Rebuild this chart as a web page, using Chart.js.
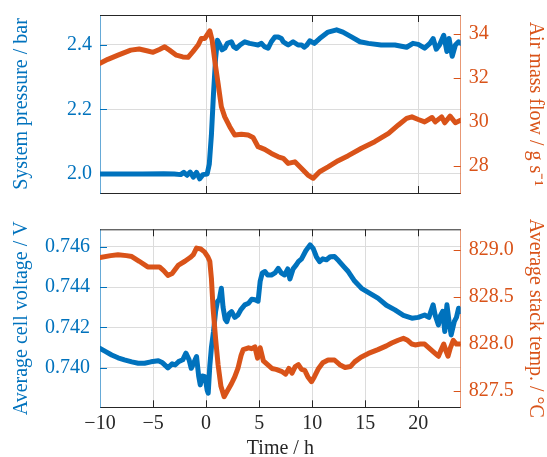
<!DOCTYPE html>
<html>
<head>
<meta charset="utf-8">
<script src="https://cdn.jsdelivr.net/npm/chart.js@4.4.1/dist/chart.umd.min.js"></script>
<style>
  html, body { margin: 0; padding: 0; background: #fff; overflow: hidden; }
  #wrap { position: relative; width: 547px; height: 457px; }
  canvas { position: absolute; left: 0; }
  #c1 { top: 0; }
  #c2 { top: 205px; }
</style>
</head>
<body>
<div id="wrap">
  <canvas id="c1" width="547" height="205"></canvas>
  <canvas id="c2" width="547" height="252"></canvas>
</div>
<script>
// top panel: system pressure (left) and air mass flow (right)
const pressureTime = [-10, -8, -6, -4, -3, -2.4, -2.1, -1.8, -1.5, -1.2,
  -0.9, -0.6, -0.3, 0.1, 0.3, 0.5, 0.7, 0.9, 1.07, 1.3,
  1.5, 1.76, 2.0, 2.39, 2.6, 2.86, 3.2, 3.65, 4.1, 4.59,
  4.9, 5.22, 5.5, 5.85, 6.15, 6.48, 6.8, 7.1, 7.27, 7.5,
  7.74, 8.2, 8.67, 9.0, 9.24, 9.5, 9.77, 10.2, 10.7, 11.1,
  11.5, 12.3, 12.9, 13.7, 14.5, 15.3, 16.5, 17.8, 18.9, 19.5,
  20.0, 20.6, 21.1, 21.4, 21.7, 22.0, 22.4, 22.7, 22.9, 23.2,
  23.5, 23.8, 24];
const pressure = [2.0, 2.0, 2.0, 2.001, 2.0, 1.998, 2.005, 1.996, 2.006, 1.99,
  2.005, 1.985, 1.998, 2.0, 2.03, 2.12, 2.25, 2.36, 2.415, 2.40,
  2.385, 2.39, 2.405, 2.41, 2.395, 2.389, 2.40, 2.41, 2.405, 2.402,
  2.40, 2.405, 2.395, 2.39, 2.41, 2.425, 2.425, 2.42, 2.41, 2.405,
  2.40, 2.41, 2.40, 2.40, 2.393, 2.40, 2.413, 2.405, 2.42, 2.43,
  2.44, 2.447, 2.44, 2.425, 2.41, 2.405, 2.40, 2.40, 2.393, 2.405,
  2.402, 2.39, 2.405, 2.42, 2.387, 2.40, 2.43, 2.38, 2.42, 2.365,
  2.40, 2.41, 2.405];

const airTime = [-10, -9.26, -8.3, -7.1, -6.3, -5.5, -5.0, -4.4, -3.9, -3.45,
  -2.8, -2.2, -1.7, -1.24, -0.75, -0.44, -0.12, 0.35, 0.57, 0.81,
  1.13, 1.44, 1.76, 2.23, 2.7, 3.33, 3.96, 4.43, 4.9, 5.53,
  6.16, 6.8, 7.27, 7.74, 8.37, 9.0, 9.6, 10.1, 10.7, 11.5,
  12.45, 13.4, 14.65, 15.9, 17.2, 18.1, 18.9, 19.4, 20.0, 20.6,
  21.3, 21.6, 22.2, 22.5, 23.0, 23.5, 24];
const airFlow = [32.67, 32.85, 33.04, 33.27, 33.32, 33.23, 33.17, 33.3, 33.42, 33.27,
  33.04, 32.96, 32.94, 33.2, 33.5, 33.8, 33.8, 34.15, 33.73, 32.82,
  31.75, 30.69, 30.23, 29.78, 29.4, 29.44, 29.4, 29.29, 28.87, 28.75,
  28.56, 28.41, 28.34, 28.11, 28.18, 27.88, 27.58, 27.43, 27.73, 27.95,
  28.23, 28.46, 28.8, 29.1, 29.48, 29.85, 30.16, 30.23, 30.11, 30.0,
  30.2, 30.0, 30.23, 29.96, 30.26, 29.96, 30.08];

// bottom panel: cell voltage (left) and stack temperature (right)
const voltTime = [-10, -9.5, -8.9, -8.3, -7.7, -7.0, -6.4, -5.8, -5.2, -4.5,
  -4.1, -3.6, -3.2, -2.9, -2.6, -2.2, -1.9, -1.6, -1.4, -1.2,
  -0.9, -0.7, -0.55, -0.35, -0.1, 0.1, 0.2, 0.35, 0.5, 0.7,
  0.9, 1.07, 1.25, 1.44, 1.6, 1.8, 1.95, 2.2, 2.4, 2.7,
  3.0, 3.3, 3.65, 4.0, 4.3, 4.6, 4.9, 5.1, 5.3, 5.55,
  5.8, 6.16, 6.5, 6.8, 7.1, 7.4, 7.7, 7.9, 8.2, 8.5,
  8.7, 9.0, 9.4, 9.8, 10.1, 10.4, 10.7, 11.0, 11.35, 11.7,
  12.1, 12.5, 13.0, 13.4, 14.0, 14.65, 15.4, 16.2, 17.0, 17.8,
  18.6, 19.4, 20.0, 20.6, 21.0, 21.4, 21.6, 21.9, 22.1, 22.3,
  22.5, 22.7, 22.9, 23.1, 23.4, 23.6, 23.8, 24];
const voltage = [0.74097, 0.74082, 0.74064, 0.7405, 0.7404, 0.7403, 0.74023, 0.74023, 0.7403, 0.74035,
  0.74025, 0.74, 0.7402, 0.74015, 0.74031, 0.7404, 0.74073, 0.7404, 0.73998, 0.7402,
  0.74056, 0.7396, 0.73916, 0.7396, 0.73957, 0.7389, 0.73875, 0.7401, 0.741, 0.7418,
  0.7428, 0.74328, 0.7434, 0.74394, 0.743, 0.7424, 0.74229, 0.7427, 0.74279, 0.7425,
  0.74262, 0.7429, 0.74312, 0.7432, 0.7434, 0.74337, 0.7433, 0.7443, 0.7447, 0.74477,
  0.7446, 0.7446, 0.7447, 0.74493, 0.74469, 0.7446, 0.7449, 0.7444, 0.7449, 0.7451,
  0.74526, 0.7454, 0.7458, 0.74609, 0.7459, 0.7455, 0.74526, 0.7454, 0.74535, 0.7455,
  0.74551, 0.7453, 0.745, 0.74477, 0.7443, 0.74394, 0.7437, 0.74345, 0.7431, 0.74287,
  0.7426, 0.74246, 0.7425, 0.74262, 0.7425, 0.74312, 0.7426, 0.74213, 0.7426, 0.7428,
  0.7418, 0.74312, 0.7423, 0.74163, 0.7423, 0.7425, 0.74295, 0.7428];

const tempTime = [-10, -9, -8.3, -7.5, -7.0, -6.3, -5.5, -4.9, -4.4, -4.0,
  -3.6, -3.2, -2.6, -2.0, -1.5, -1.2, -0.9, -0.5, -0.15, 0.15,
  0.35, 0.5, 0.66, 0.9, 1.13, 1.4, 1.7, 2.0, 2.4, 2.7,
  3.0, 3.3, 3.5, 4.0, 4.3, 4.6, 4.85, 5.1, 5.4, 5.8,
  6.2, 6.6, 7.1, 7.5, 7.8, 8.1, 8.4, 8.7, 9.0, 9.3,
  9.6, 9.94, 10.2, 10.6, 11.0, 11.5, 12.1, 12.6, 13.1, 13.6,
  14.0, 14.6, 15.3, 16.2, 17.0, 17.5, 18.1, 18.6, 19.0, 19.4,
  19.7, 20.2, 20.6, 21.0, 21.4, 21.7, 21.9, 22.2, 22.4, 22.6,
  22.8, 23.0, 23.3, 23.6, 24];
const temp = [828.92, 828.94, 828.95, 828.94, 828.93, 828.88, 828.82, 828.82, 828.82, 828.78,
  828.73, 828.75, 828.84, 828.88, 828.92, 828.95, 829.02, 829.01, 828.98, 828.93,
  828.88, 828.7, 828.38, 828.05, 827.78, 827.55, 827.44, 827.5, 827.58, 827.65,
  827.74, 827.88, 827.94, 827.96, 827.95, 827.97, 827.85, 827.96, 827.82, 827.78,
  827.74, 827.73, 827.71, 827.68, 827.74, 827.69, 827.76, 827.78, 827.73, 827.72,
  827.65, 827.6, 827.65, 827.74, 827.8, 827.83, 827.83, 827.78, 827.75, 827.76,
  827.81, 827.86, 827.9, 827.94, 827.98, 828.01, 828.04, 828.06, 828.04, 828.0,
  827.99, 828.0, 828.0, 827.96, 827.92, 827.89, 827.87, 827.95, 828.0, 827.93,
  827.87, 827.95, 828.04, 828.0, 828.0];

// tick values
const topXTicks = [-10, 0, 10, 20];
const bottomXTicks = [-10, -5, 0, 5, 10, 15, 20];
const pressureTicks = [2.0, 2.2, 2.4];
const airTicks = [28, 30, 32, 34];
const voltTicks = [0.740, 0.742, 0.744, 0.746];
const tempTicks = [827.5, 828.0, 828.5, 829.0];

const BLUE = '#0072BD';
const ORANGE = '#D95319';
const DARK = '#262626';
const GRID = '#dcdcdc';

Chart.defaults.font.family = '"Liberation Serif", "Times New Roman", serif';
Chart.defaults.font.size = 20;
Chart.defaults.color = DARK;

const pts = (xs, ys) => xs.map((x, i) => ({ x: x, y: ys[i] }));
const setTicks = vals => scale => { scale.ticks = vals.map(v => ({ value: v })); };
const minus = s => String(s).replace('-', '\u2212');

// box top edge and inward tick marks
const frame = {
    id: 'frame',
    beforeDatasetsDraw(chart) {
        const { ctx, chartArea: a, scales } = chart;
        const len = 7;
        ctx.save();
        ctx.lineWidth = 1;
        ctx.strokeStyle = DARK;
        ctx.beginPath();
        ctx.moveTo(a.left, a.top + 0.5);
        ctx.lineTo(a.right, a.top + 0.5);
        ctx.stroke();

        scales.x.ticks.forEach(t => {
            const p = Math.round(scales.x.getPixelForValue(t.value)) + 0.5;
            if (p <= a.left + 1) return;
            ctx.beginPath();
            ctx.moveTo(p, a.bottom); ctx.lineTo(p, a.bottom - len);
            ctx.moveTo(p, a.top); ctx.lineTo(p, a.top + len);
            ctx.stroke();
        });
        Object.values(scales).forEach(s => {
            if (s.axis !== 'y') return;
            const left = s.position === 'left';
            ctx.strokeStyle = left ? BLUE : ORANGE;
            s.ticks.forEach(t => {
                const p = Math.round(s.getPixelForValue(t.value)) + 0.5;
                ctx.beginPath();
                if (left) { ctx.moveTo(a.left, p); ctx.lineTo(a.left + len, p); }
                else { ctx.moveTo(a.right, p); ctx.lineTo(a.right - len, p); }
                ctx.stroke();
            });
        });
        ctx.restore();
    }
};

function lineSet(data, color, axis, order) {
    return {
        data: data,
        yAxisID: axis,
        borderColor: color,
        backgroundColor: color,
        borderWidth: 5,
        borderJoinStyle: 'round',
        borderCapStyle: 'round',
        pointRadius: 0,
        tension: 0,
        order: order
    };
}

function yAxis(opts) {
    const left = opts.position === 'left';
    const color = left ? BLUE : ORANGE;
    return {
        type: 'linear',
        position: opts.position,
        min: opts.min,
        max: opts.max,
        afterBuildTicks: setTicks(opts.ticks),
        afterFit: s => {
            s.width = left ? 100 : 86.3;
            s.paddingTop = 0;
            s.paddingBottom = 0;
        },
        ticks: {
            color: color,
            padding: left ? opts.pad : 8,
            callback: v => v.toFixed(opts.digits)
        },
        grid: { display: left, color: GRID, drawTicks: false },
        border: { display: true, color: left ? 'rgba(0,114,189,0.6)' : 'rgba(217,83,25,0.6)' },
        title: {
            display: true,
            text: opts.title,
            color: color,
            padding: { top: left ? 10 : 0, bottom: 0 }
        }
    };
}

function xAxis(ticks, height, showLabels) {
    return {
        type: 'linear',
        min: -10,
        max: 24,
        afterBuildTicks: setTicks(ticks),
        afterFit: s => {
            s.height = height;
            s.paddingLeft = 0;
            s.paddingRight = 0;
        },
        ticks: { display: showLabels, color: DARK, padding: 4, maxRotation: 0, callback: v => minus(v) },
        grid: {
            color: c => (c.tick && c.tick.value === -10) ? 'rgba(0,0,0,0)' : GRID,
            drawTicks: false
        },
        border: { color: DARK },
        title: {
            display: showLabels,
            text: 'Time / h',
            color: DARK,
            font: { lineHeight: 0.8 },
            padding: { top: 0, bottom: 0 }
        }
    };
}

// top chart
new Chart(document.getElementById('c1'), {
    type: 'line',
    data: {
        datasets: [
            lineSet(pts(pressureTime, pressure), BLUE, 'yP', 2),
            lineSet(pts(airTime, airFlow), ORANGE, 'yA', 1)
        ]
    },
    options: {
        responsive: false,
        animation: false,
        layout: { padding: { top: 15, left: 0, right: 0, bottom: 0 } },
        plugins: { legend: { display: false }, tooltip: { enabled: false } },
        scales: {
            x: xAxis(topXTicks, 12, false),
            yP: yAxis({ position: 'left', min: 1.941, max: 2.493, ticks: pressureTicks,
                        digits: 1, pad: 8, title: 'System pressure / bar' }),
            yA: yAxis({ position: 'right', min: 26.76, max: 34.87, ticks: airTicks,
                        digits: 0, title: 'Air mass flow / g s\u207B\u00B9' })
        }
    },
    plugins: [frame]
});

// bottom chart
new Chart(document.getElementById('c2'), {
    type: 'line',
    data: {
        datasets: [
            lineSet(pts(voltTime, voltage), BLUE, 'yV', 2),
            lineSet(pts(tempTime, temp), ORANGE, 'yT', 1)
        ]
    },
    options: {
        responsive: false,
        animation: false,
        layout: { padding: { top: 24.3, left: 0, right: 0, bottom: 0 } },
        plugins: { legend: { display: false }, tooltip: { enabled: false } },
        scales: {
            x: xAxis(bottomXTicks, 49.7, true),
            yV: yAxis({ position: 'left', min: 0.73805, max: 0.74686, ticks: voltTicks,
                        digits: 3, pad: 10, title: 'Average cell voltage / V' }),
            yT: yAxis({ position: 'right', min: 827.327, max: 829.22, ticks: tempTicks,
                        digits: 1, title: 'Average stack temp. / \u00B0C' })
        }
    },
    plugins: [frame]
});
</script>
</body>
</html>
